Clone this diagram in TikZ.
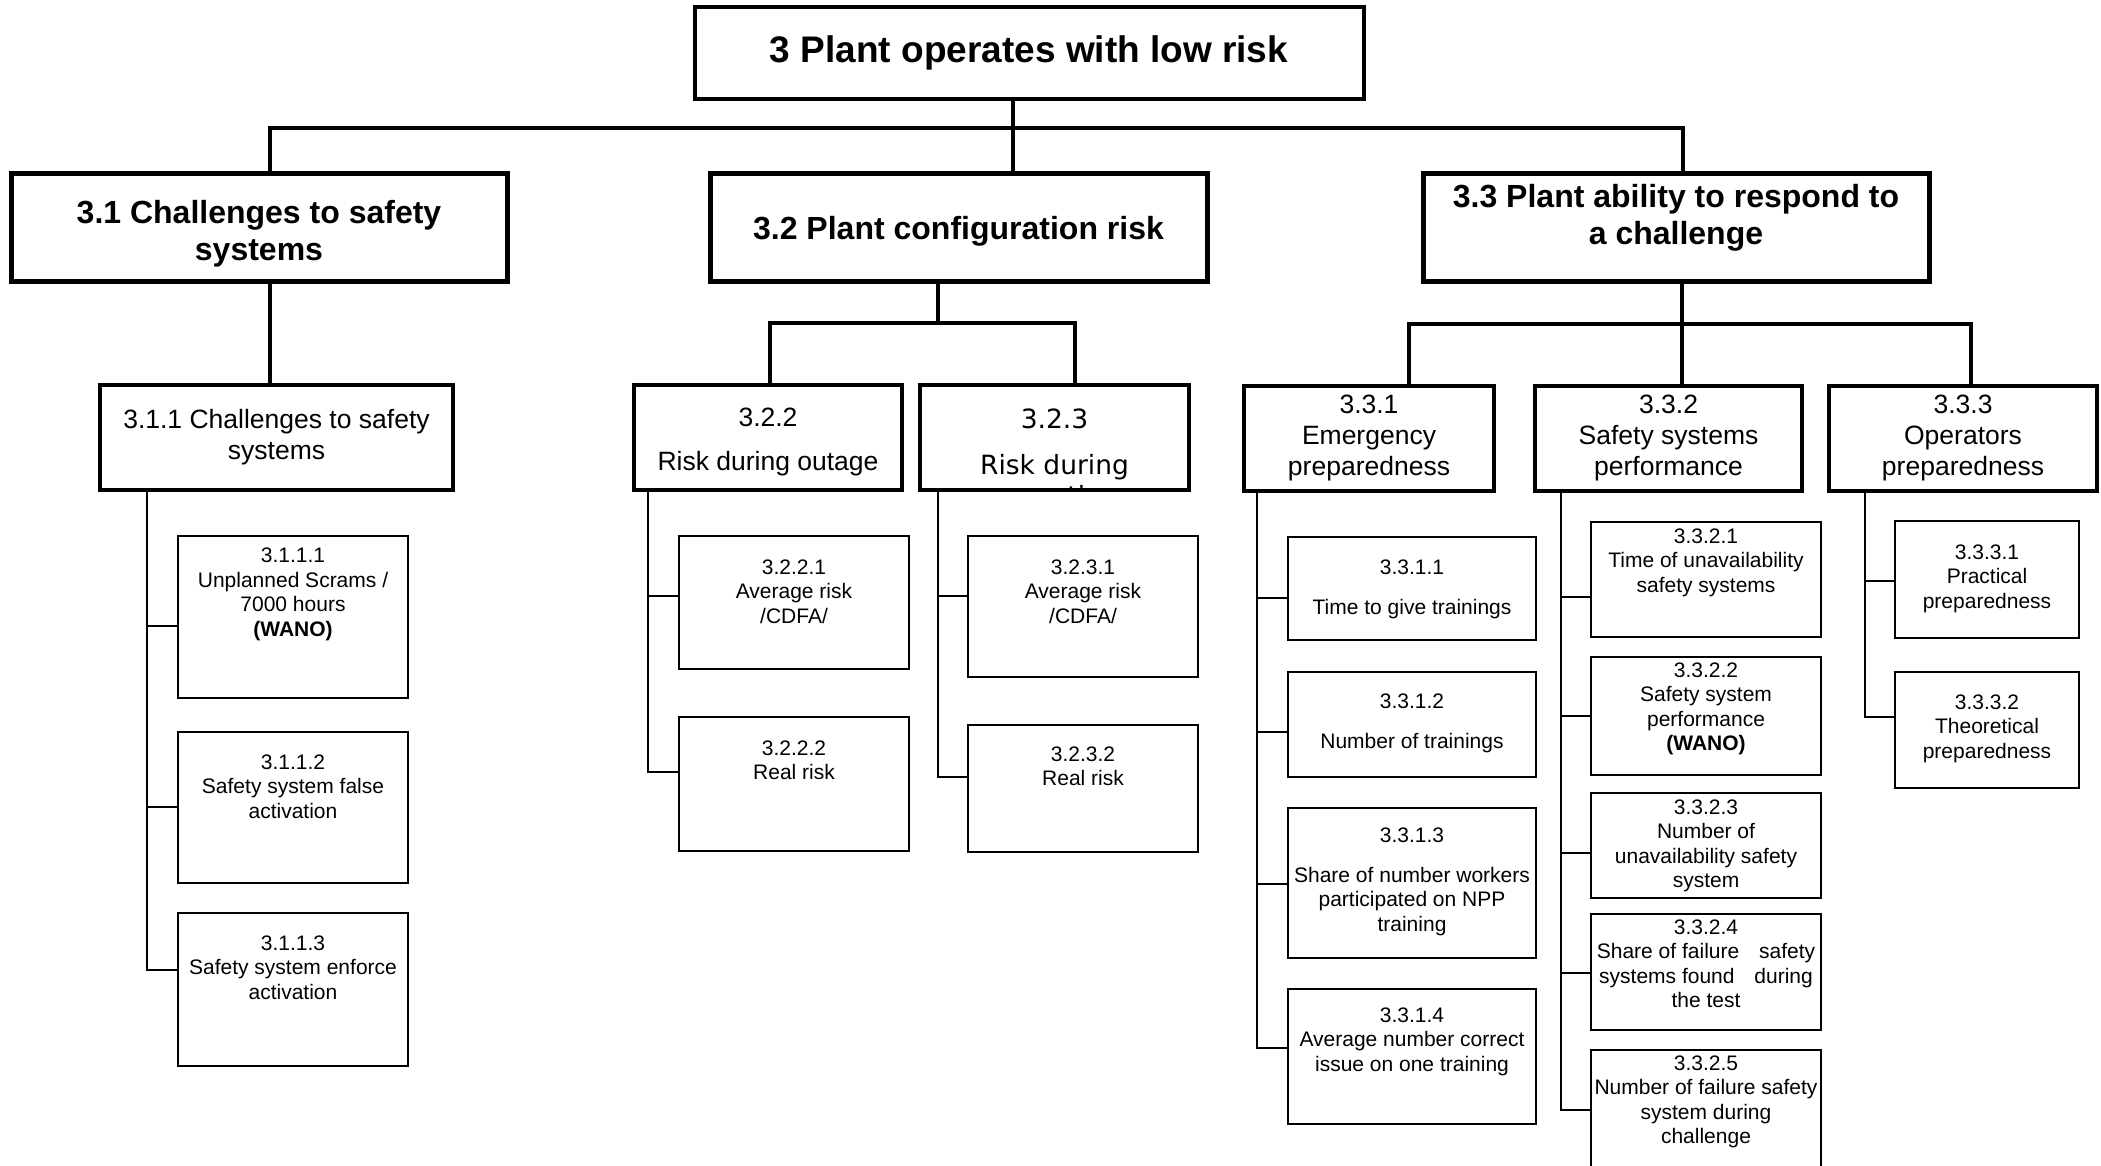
\documentclass[tikz,border=0pt]{standalone}
\usepackage{fontspec}
\setmainfont{Liberation Sans}
\newfontfamily\dejavu{DejaVu Sans}
\newcommand{\fleaf}{\fontsize{21}{24.5}\selectfont}
\newcommand{\fmid}{\fontsize{26.5}{31}\selectfont}
\newcommand{\fdv}{\dejavu\fontsize{26.5}{31}\selectfont}
\newcommand{\fbig}{\fontsize{32}{36.5}\selectfont\bfseries}
\newcommand{\ftop}{\fontsize{37}{42}\selectfont\bfseries}
\newcommand{\rbox}[6]{\node[#1, anchor=north west, minimum width={#5pt-#3pt}, minimum height={#6pt-#4pt}] (#2) at (#3,#4) {};}
\newcommand{\btext}[5]{\node[txt, font=#4] (#1) at (#2,#3) {#5};}
\tikzset{
  boxbase/.style={draw, rectangle, inner sep=0pt, outer sep=0pt, fill=none},
  topbox/.style={boxbase, line width=4.5pt},
  lvtwo/.style={boxbase, line width=5pt},
  lvthree/.style={boxbase, line width=4.5pt},
  leafbox/.style={boxbase, line width=2.5pt},
  bus/.style={line width=4.5pt, line join=miter},
  conn/.style={line width=3.5pt},
  lconn/.style={line width=2.5pt},
  txt/.style={align=center, inner sep=0pt, anchor=north}
}
\begin{document}
\begin{tikzpicture}[x=1pt, y=-1pt]
\useasboundingbox (0,0) rectangle (2101,1165);
\fill[white] (0,0) rectangle (2101,1165);

% ---------- boxes ----------
\rbox{topbox}{top}{695}{7}{1364}{99}
\rbox{lvtwo}{n31}{11}{173}{507}{281}
\rbox{lvtwo}{n32}{710}{173}{1207}{281}
\rbox{lvtwo}{n33}{1423}{173}{1929}{281}

\rbox{lvthree}{n311}{100}{385}{453}{490}
\rbox{lvthree}{n322}{634}{385}{902}{490}
\rbox{lvthree}{n331}{1244}{386}{1494}{491}
\rbox{lvthree}{n332}{1535}{386}{1802}{491}
\rbox{lvthree}{n333}{1829}{386}{2097}{491}

\rbox{leafbox}{n3111}{178}{536}{408}{698}
\rbox{leafbox}{n3112}{178}{732}{408}{883}
\rbox{leafbox}{n3113}{178}{913}{408}{1066}
\rbox{leafbox}{n3221}{679}{536}{909}{669}
\rbox{leafbox}{n3222}{679}{717}{909}{851}
\rbox{leafbox}{n3231}{968}{536}{1198}{677}
\rbox{leafbox}{n3232}{968}{725}{1198}{852}
\rbox{leafbox}{n3311}{1288}{537}{1536}{640}
\rbox{leafbox}{n3312}{1288}{672}{1536}{777}
\rbox{leafbox}{n3313}{1288}{808}{1536}{958}
\rbox{leafbox}{n3314}{1288}{989}{1536}{1124}
\rbox{leafbox}{n3321}{1591}{522}{1821}{637}
\rbox{leafbox}{n3322}{1591}{657}{1821}{775}
\rbox{leafbox}{n3323}{1591}{793}{1821}{898}
\rbox{leafbox}{n3324}{1591}{914}{1821}{1030}
\rbox{leafbox}{n3325}{1591}{1050}{1821}{1180}
\rbox{leafbox}{n3331}{1895}{521}{2079}{638}
\rbox{leafbox}{n3332}{1895}{672}{2079}{788}

% 3.2.3 with text clipped by its box
\begin{scope}
\clip (920,385) rectangle (1189,490);
\btext{t323}{1054.5}{408.5}{\fdv}{3.2.3\\[15pt]Risk during\\operation}
\end{scope}
\rbox{lvthree}{n323}{920}{385}{1189}{490}

% ---------- texts ----------
\btext{ttop}{1029}{35}{\ftop}{3 Plant operates with low risk}
\btext{t31}{259}{200.5}{\fbig}{3.1 Challenges to safety\\systems}
\btext{t32}{958.5}{216.5}{\fbig}{3.2 Plant configuration risk}
\btext{t33}{1676}{184.5}{\fbig}{3.3 Plant ability to respond to\\a challenge}

\btext{t311}{276.5}{409}{\fmid}{3.1.1 Challenges to safety\\systems}
\btext{t322}{768}{408}{\fmid}{3.2.2\\[13pt]Risk during outage}
\btext{t331}{1369}{394.5}{\fmid}{3.3.1\\Emergency\\preparedness}
\btext{t332}{1668.5}{394.5}{\fmid}{3.3.2\\Safety systems\\performance}
\btext{t333}{1963}{394.5}{\fmid}{3.3.3\\Operators\\preparedness}

\btext{t3111}{293}{548}{\fleaf}{3.1.1.1\\Unplanned Scrams /\\7000 hours\\\textbf{(WANO)}}
\btext{t3112}{293}{754.4}{\fleaf}{3.1.1.2\\Safety system false\\activation}
\btext{t3113}{293}{935.4}{\fleaf}{3.1.1.3\\Safety system enforce\\activation}
\btext{t3221}{794}{559.4}{\fleaf}{3.2.2.1\\Average risk\\/CDFA/}
\btext{t3222}{794}{740.4}{\fleaf}{3.2.2.2\\Real risk}
\btext{t3231}{1083}{559.4}{\fleaf}{3.2.3.1\\Average risk\\/CDFA/}
\btext{t3232}{1083}{746.4}{\fleaf}{3.2.3.2\\Real risk}
\btext{t3311}{1412}{559.4}{\fleaf}{3.3.1.1\\[15.5pt]Time to give trainings}
\btext{t3312}{1412}{693.4}{\fleaf}{3.3.1.2\\[15.5pt]Number of trainings}
\btext{t3313}{1412}{827.4}{\fleaf}{3.3.1.3\\[15.5pt]Share of number workers\\participated on NPP\\training}
\btext{t3314}{1412}{1007.4}{\fleaf}{3.3.1.4\\Average number correct\\issue on one training}
\btext{t3321}{1706}{528.4}{\fleaf}{3.3.2.1\\Time of unavailability\\safety systems}
\btext{t3322}{1706}{662.4}{\fleaf}{3.3.2.2\\Safety system\\performance\\\textbf{(WANO)}}
\btext{t3323}{1706}{799.4}{\fleaf}{3.3.2.3\\Number of\\unavailability safety\\system}
\btext{t3324}{1706}{919.4}{\fleaf}{3.3.2.4\\Share of failure\hspace{14pt} safety\\systems found\hspace{14pt} during\\the test}
\btext{t3325}{1706}{1055.4}{\fleaf}{3.3.2.5\\Number of failure safety\\system during\\challenge}
\btext{t3331}{1987}{544.4}{\fleaf}{3.3.3.1\\Practical\\preparedness}
\btext{t3332}{1987}{694.4}{\fleaf}{3.3.3.2\\Theoretical\\preparedness}

% ---------- level 1 -> level 2 ----------
\coordinate (bus) at (1013,128);
\coordinate (c31) at (270,128);
\coordinate (c33) at (1683,128);
\draw[bus] (c31 |- n31.north) -- (c31) -- (c33) -- (c33 |- n33.north);
\draw[conn] (bus |- top.south) -- (bus) -- (bus |- n32.north);

% ---------- level 2 -> level 3 ----------
\draw[conn] (c31 |- n31.south) -- (c31 |- n311.north);

\coordinate (b32) at (938,323);
\coordinate (b322) at (770,323);
\coordinate (b323) at (1075,323);
\draw[conn] (b32 |- n32.south) -- (b32);
\draw[bus] (b322 |- n322.north) -- (b322) -- (b323) -- (b323 |- n323.north);

\coordinate (b33) at (1682,324);
\coordinate (b331) at (1409,324);
\coordinate (b333) at (1971,324);
\draw[conn] (b33 |- n33.south) -- (b33 |- n332.north);
\draw[bus] (b331 |- n331.north) -- (b331) -- (b333) -- (b333 |- n333.north);

% ---------- level 3 -> leaves ----------
\coordinate (k3111) at (147,626);
\coordinate (k3112) at (147,807);
\coordinate (k3113) at (147,970);
\draw[lconn] (k3113 |- n311.south) -- (k3113) -- (k3113 -| n3113.west);
\draw[lconn] (k3111) -- (k3111 -| n3111.west);
\draw[lconn] (k3112) -- (k3112 -| n3112.west);

\coordinate (k3221) at (648,596);
\coordinate (k3222) at (648,772);
\draw[lconn] (k3222 |- n322.south) -- (k3222) -- (k3222 -| n3222.west);
\draw[lconn] (k3221) -- (k3221 -| n3221.west);

\coordinate (k3231) at (938,596);
\coordinate (k3232) at (938,777);
\draw[lconn] (k3232 |- n323.south) -- (k3232) -- (k3232 -| n3232.west);
\draw[lconn] (k3231) -- (k3231 -| n3231.west);

\coordinate (k3311) at (1257,598);
\coordinate (k3312) at (1257,732);
\coordinate (k3313) at (1257,884);
\coordinate (k3314) at (1257,1048);
\draw[lconn] (k3314 |- n331.south) -- (k3314) -- (k3314 -| n3314.west);
\draw[lconn] (k3311) -- (k3311 -| n3311.west);
\draw[lconn] (k3312) -- (k3312 -| n3312.west);
\draw[lconn] (k3313) -- (k3313 -| n3313.west);

\coordinate (k3321) at (1561,597);
\coordinate (k3322) at (1561,716);
\coordinate (k3323) at (1561,853);
\coordinate (k3324) at (1561,973);
\coordinate (k3325) at (1561,1110);
\draw[lconn] (k3325 |- n332.south) -- (k3325) -- (k3325 -| n3325.west);
\draw[lconn] (k3321) -- (k3321 -| n3321.west);
\draw[lconn] (k3322) -- (k3322 -| n3322.west);
\draw[lconn] (k3323) -- (k3323 -| n3323.west);
\draw[lconn] (k3324) -- (k3324 -| n3324.west);

\coordinate (k3331) at (1865,581);
\coordinate (k3332) at (1865,717);
\draw[lconn] (k3332 |- n333.south) -- (k3332) -- (k3332 -| n3332.west);
\draw[lconn] (k3331) -- (k3331 -| n3331.west);
\end{tikzpicture}
\end{document}
